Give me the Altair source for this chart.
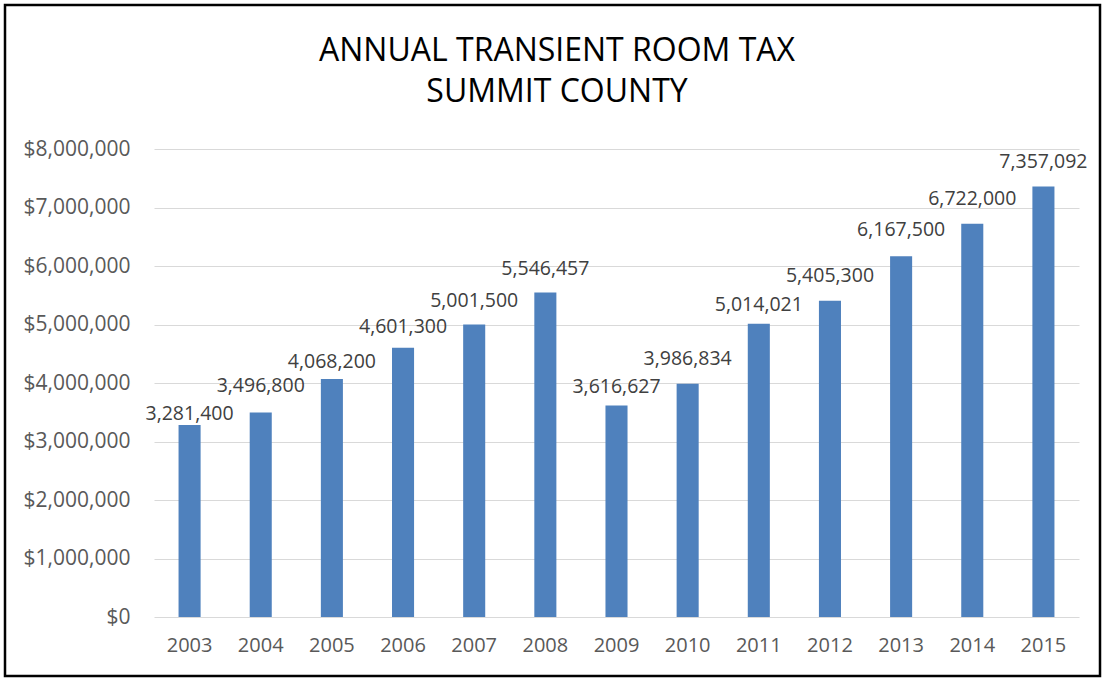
import altair as alt
import pandas as pd

years = ["2003", "2004", "2005", "2006", "2007", "2008", "2009",
         "2010", "2011", "2012", "2013", "2014", "2015"]
tax = [3281400, 3496800, 4068200, 4601300, 5001500, 5546457, 3616627,
       3986834, 5014021, 5405300, 6167500, 6722000, 7357092]
y_ticks = [0, 1000000, 2000000, 3000000, 4000000, 5000000, 6000000, 7000000, 8000000]
title_line1 = "ANNUAL TRANSIENT ROOM TAX"
title_line2 = "SUMMIT COUNTY"

# style: how far (px) each data label sits above its bar, as placed in the reference
label_lift = [-5, -20, -11, -15, -17, -18, -12, -19, -13, -19, -20, -19, -19]

df = pd.DataFrame({"year": years, "tax": tax})
lab_df = pd.DataFrame({"year": years, "tax": tax, "lift": label_lift})

FONT = "Open Sans"
W, H = 925, 468
LEFT, TOP = 154, 149

x_enc = alt.X("year:N", sort=years,
              scale=alt.Scale(paddingInner=0.69, paddingOuter=0.345),
              axis=alt.Axis(title=None, labelAngle=0, ticks=False, domain=False,
                            labelFont=FONT, labelFontSize=20, labelColor="#595959",
                            labelPadding=18))
y_enc = alt.Y("tax:Q", scale=alt.Scale(domain=[0, 8000000], nice=False),
              axis=alt.Axis(title=None, values=y_ticks, format="$,.0f", ticks=False,
                            domain=False, grid=True, gridColor="#D9D9D9", gridWidth=1,
                            labelFont=FONT, labelFontSize=21, labelColor="#595959",
                            labelPadding=24))

bars = alt.Chart(df).mark_bar(color="#4F81BD").encode(x=x_enc, y=y_enc)
labels = alt.Chart(lab_df).mark_text(font=FONT, fontSize=19.5, color="#404040",
                                     baseline="alphabetic",
                                     dy=alt.ExprRef(expr="datum.lift")).encode(
    x=alt.X("year:N", sort=years), y=alt.Y("tax:Q"),
    text=alt.Text("tax:Q", format=",.0f"))

border = alt.Chart(pd.DataFrame({"a": [0]})).mark_rect(
    filled=False, stroke="black", strokeWidth=2.5).encode(
    x=alt.value(5 - LEFT), x2=alt.value(1100 - LEFT),
    y=alt.value(5 - TOP), y2=alt.value(676 - TOP))

t1 = alt.Chart(pd.DataFrame({"t": [title_line1]})).mark_text(
    font=FONT, fontSize=32, color="black", align="center", baseline="alphabetic").encode(
    text="t:N", x=alt.value(557 - LEFT), y=alt.value(61 - TOP))
t2 = alt.Chart(pd.DataFrame({"t": [title_line2]})).mark_text(
    font=FONT, fontSize=32, color="black", align="center", baseline="alphabetic").encode(
    text="t:N", x=alt.value(557 - LEFT), y=alt.value(102 - TOP))

chart = alt.layer(bars, labels, border, t1, t2).properties(
    width=W, height=H,
    background="white",
    padding={"left": LEFT, "top": TOP, "right": 1105 - LEFT - W, "bottom": 681 - TOP - H},
    autosize=alt.AutoSizeParams(type="none"),
).configure_view(stroke="transparent", strokeWidth=0)

chart.save("out.html", embed_options={"renderer": "svg", "actions": False})
